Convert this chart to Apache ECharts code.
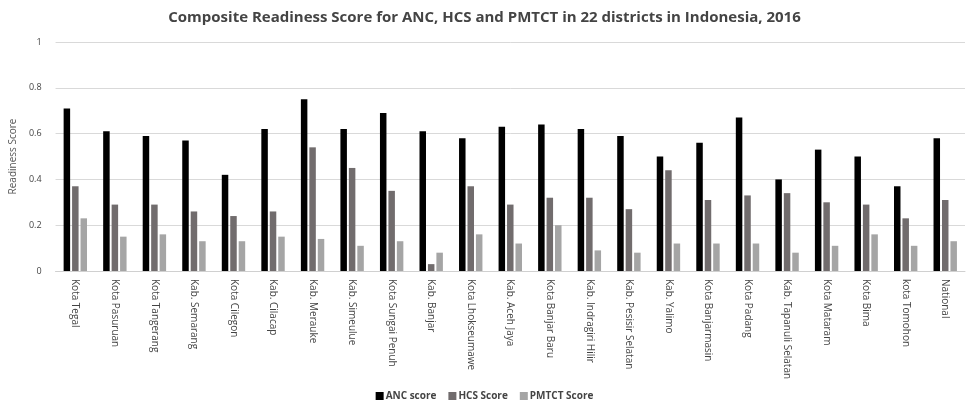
<!DOCTYPE html>
<html><head><meta charset="utf-8">
<script src="https://cdn.jsdelivr.net/npm/echarts@6/dist/echarts.min.js"></script>
<style>html,body{margin:0;padding:0;background:#fff}#c{width:969px;height:408px}</style>
</head><body><div id="c"></div>
<script>
const categories = ["Kota Tegal","Kota Pasuruan","Kota Tangerang","Kab. Semarang","Kota Cilegon","Kab. Cilacap","Kab. Merauke","Kab. Simeulue","Kota Sungai Penuh","Kab. Banjar","Kota Lhokseumawe","Kab. Aceh Jaya","Kota Banjar Baru","Kab. Indragiri Hilir","Kab. Pesisir Selatan","Kab. Yalimo","Kota Banjarmasin","Kota Padang","Kab. Tapanuli Selatan","Kota Mataram","Kota Bima","kota Tomohon","National"];
const ancScore = [0.71,0.61,0.59,0.57,0.42,0.62,0.75,0.62,0.69,0.61,0.58,0.63,0.64,0.62,0.59,0.50,0.56,0.67,0.40,0.53,0.50,0.37,0.58];
const hcsScore = [0.37,0.29,0.29,0.26,0.24,0.26,0.54,0.45,0.35,0.03,0.37,0.29,0.32,0.32,0.27,0.44,0.31,0.33,0.34,0.30,0.29,0.23,0.31];
const pmtctScore = [0.23,0.15,0.16,0.13,0.13,0.15,0.14,0.11,0.13,0.08,0.16,0.12,0.20,0.09,0.08,0.12,0.12,0.12,0.08,0.11,0.16,0.11,0.13];
const seriesNames = ["ANC score","HCS Score","PMTCT Score"];
const yTicks = [0,0.2,0.4,0.6,0.8,1];

const chart = echarts.init(document.getElementById('c'), null, {renderer:'canvas'});
const font = "'Open Sans', 'Noto Sans', sans-serif";
const colors = ['#000000','#716c6d','#a5a5a5'];
chart.setOption({
  animation:false,
  textStyle:{fontFamily:font},
  title:{text:'Composite Readiness Score for ANC, HCS and PMTCT in 22 districts in Indonesia, 2016',
    left:'center', top:5,
    textStyle:{fontFamily:font,fontSize:15,fontWeight:'bold',color:'#444'}},
  legend:{bottom:2,left:'center',itemWidth:8,itemHeight:8,itemGap:12,icon:'rect',
    textStyle:{fontFamily:font,fontSize:10,color:'#444',fontWeight:'bold',padding:[0,0,0,-3]},
    data:seriesNames},
  grid:{left:55,right:4,top:42,bottom:137,containLabel:false},
  xAxis:{type:'category',data:categories,
    axisLine:{lineStyle:{color:'#d0d0d0'}},axisTick:{show:false},
    axisLabel:{rotate:-90,interval:0,fontSize:10,color:'#444',fontFamily:font,margin:8,verticalAlign:'middle',align:'left'}},
  yAxis:{type:'value',min:0,max:1,interval:0.2,name:'Readiness Score',nameLocation:'middle',nameGap:31,
    nameTextStyle:{fontFamily:font,fontSize:10,color:'#555'},
    axisLine:{show:false},axisTick:{show:false},
    axisLabel:{fontSize:9,color:'#444',margin:14,formatter:v=>{const s=yTicks.find(t=>Math.abs(t-v)<1e-9);return String(s!==undefined?s:v);}},
    splitLine:{lineStyle:{color:'#d9d9d9'}}},
  series:[
    {name:seriesNames[0],type:'bar',data:ancScore,itemStyle:{color:colors[0]},barWidth:6.5,barGap:'30%'},
    {name:seriesNames[1],type:'bar',data:hcsScore,itemStyle:{color:colors[1]},barWidth:6.5,barGap:'30%'},
    {name:seriesNames[2],type:'bar',data:pmtctScore,itemStyle:{color:colors[2]},barWidth:6.5,barGap:'30%'}
  ]
});
</script></body></html>
